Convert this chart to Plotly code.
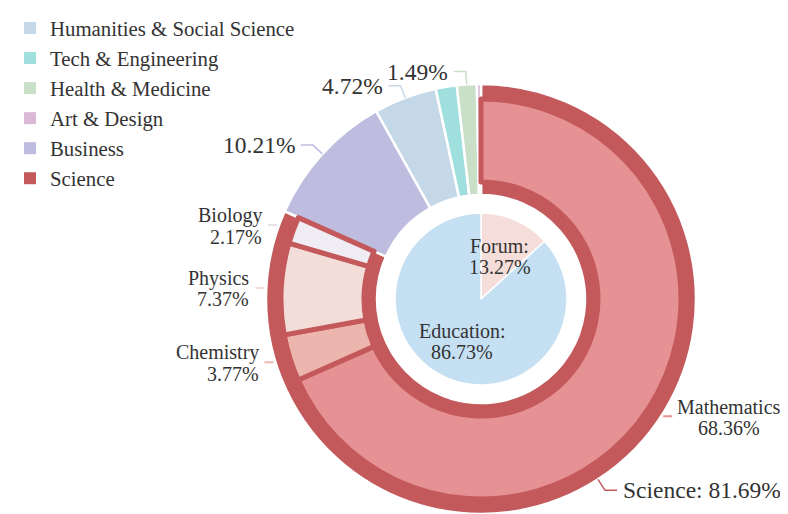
import math
import plotly.graph_objects as go

# page body has an 8px margin: the figure is sized to fill the rest of the window
VW, VH = 788, 514
OFF = 8
W, H = VW - OFF, VH - OFF

# ---------------- data ----------------
categories = ["Humanities & Social Science", "Tech & Engineering", "Health & Medicine",
              "Art & Design", "Business", "Science"]
category_colors = ["#c5d8e8", "#9fe0de", "#c9dfc8", "#dbb8d6", "#bebcdf", "#c4595c"]

# outer ring, clockwise from 12 o'clock
ring_labels = ["Science", "Business", "Humanities & Social Science", "Tech & Engineering",
               "Health & Medicine", "Art & Design"]
ring_values = [81.69, 10.21, 4.72, 1.58, 1.49, 0.31]
ring_label_shown = [True, True, True, False, True, False]

# science breakdown ring
sub_labels = ["Mathematics", "Chemistry", "Physics", "Biology"]
sub_values = [68.36, 3.77, 7.37, 2.17]
sub_colors = ["#e69193", "#ecb5ad", "#f3ddd9", "#efedf3"]

# center pie
center_labels = ["Forum", "Education"]
center_values = [13.27, 86.73]
center_colors = ["#f5ddd9", "#c6e0f3"]

# ---------------- geometry / style (window pixels) ----------------
CX, CY = 481, 299
R_OUT, R_OUT_IN = 215, 104
R_SUB, R_SUB_IN = 200, 117
R_CEN = 86
FONT = "Liberation Serif"
TXT = "#333333"


def px(x, y):
    return (x - OFF) / W, 1 - (y - OFF) / H


def dom(r):
    x0, y1 = px(CX - r, CY - r)
    x1, y0 = px(CX + r, CY + r)
    return dict(x=[max(0, x0), min(1, x1)], y=[max(0, y0), min(1, y1)])


def mid_angles(values, total):
    out, c = [], 0.0
    for v in values:
        out.append((c + v / 2) / total * 2 * math.pi)
        c += v
    return out


color_of = dict(zip(categories, category_colors))
ring_colors = [color_of[l] for l in ring_labels]
total = sum(ring_values)

fig = go.Figure()

# legend carrier (defines legend order), hidden under the center pie
fig.add_trace(go.Pie(labels=categories, values=[ring_values[ring_labels.index(c)] for c in categories],
                     marker=dict(colors=category_colors), domain=dom(4), sort=False,
                     textinfo="none", hoverinfo="skip", showlegend=True))

fig.add_trace(go.Pie(labels=ring_labels, values=ring_values, hole=R_OUT_IN / R_OUT,
                     marker=dict(colors=ring_colors, line=dict(color="white", width=2.5)),
                     domain=dom(R_OUT), sort=False, direction="clockwise", rotation=0,
                     textinfo="none", showlegend=True))

rest = total - sum(sub_values)
fig.add_trace(go.Pie(labels=sub_labels + ["(other)"], values=sub_values + [rest],
                     hole=R_SUB_IN / R_SUB,
                     marker=dict(colors=sub_colors + ["rgba(0,0,0,0)"],
                                 line=dict(color=[color_of["Science"]] * 4 + ["rgba(0,0,0,0)"],
                                           width=[5, 5, 5, 5, 0])),
                     domain=dom(R_SUB), sort=False, direction="clockwise", rotation=0,
                     textinfo="none", showlegend=False))

fig.add_trace(go.Pie(labels=center_labels, values=center_values,
                     marker=dict(colors=center_colors, line=dict(color="white", width=1.5)),
                     domain=dom(R_CEN), sort=False, direction="clockwise", rotation=0,
                     textinfo="none", showlegend=False))

annotations, shapes = [], []

# outer ring labels
for lab, v, a, show, col in zip(ring_labels, ring_values, mid_angles(ring_values, total),
                                ring_label_shown, ring_colors):
    if not show:
        continue
    dx, dy = math.sin(a), -math.cos(a)
    x0, y0 = CX + R_OUT * dx, CY + R_OUT * dy
    x1, y1 = CX + (R_OUT + 13) * dx, CY + (R_OUT + 13) * dy
    side = 1 if dx >= 0 else -1
    x2, y2 = x1 + side * 12, y1
    pts = [px(x0, y0), px(x1, y1), px(x2, y2)]
    shapes.append(dict(type="path", xref="paper", yref="paper",
                       path="M {},{} L {},{} L {},{}".format(*pts[0], *pts[1], *pts[2]),
                       line=dict(color=col, width=1.5)))
    text = f"{lab}: {v:.2f}%" if v > 50 else f"{v:.2f}%"
    tx, ty = px(x2 + side * 4, y2)
    annotations.append(dict(x=tx, y=ty, xref="paper", yref="paper", text=text, showarrow=False,
                            xanchor="left" if side > 0 else "right", yanchor="middle",
                            font=dict(family=FONT, size=23.5, color=TXT)))

# science breakdown labels
for lab, v, a, col in zip(sub_labels, sub_values, mid_angles(sub_values + [rest], total), sub_colors):
    dx, dy = math.sin(a), -math.cos(a)
    yl = CY + R_OUT * dy
    side = 1 if dx >= 0 else -1
    xs = CX + R_OUT * dx + side * 2
    xe = xs + side * 9
    p0, p1 = px(xs, yl), px(xe, yl)
    shapes.append(dict(type="line", xref="paper", yref="paper", x0=p0[0], y0=p0[1], x1=p1[0], y1=p1[1],
                       line=dict(color=col if col != "#efedf3" else "#e4e2ea", width=2)))
    fs = 20
    if side < 0:
        xa, xpos = "right", xe - 4
    else:
        # name and value centred on each other, block starting right of the line
        xa, xpos = "center", xe + 3 + 0.245 * fs * len(lab)
    for t, off in ((lab, -9.5), (f"{v:.2f}%", 11.5)):
        tx, ty = px(xpos, yl + off)
        annotations.append(dict(x=tx, y=ty, xref="paper", yref="paper", text=t, showarrow=False,
                                xanchor=xa, yanchor="middle",
                                font=dict(family=FONT, size=fs, color=TXT)))

# center labels
for lab, v, a in zip(center_labels, center_values, mid_angles(center_values, sum(center_values))):
    r = 0.54 * R_CEN
    mx, my = CX + r * math.sin(a), CY - r * math.cos(a)
    for t, off in ((f"{lab}:", -10.5), (f"{v:.2f}%", 10.5)):
        tx, ty = px(mx, my + off)
        annotations.append(dict(x=tx, y=ty, xref="paper", yref="paper", text=t, showarrow=False,
                                xanchor="center", yanchor="middle",
                                font=dict(family=FONT, size=20, color=TXT)))

fig.update_layout(
    width=W, height=H,
    margin=dict(l=0, r=0, t=0, b=0),
    paper_bgcolor="white", plot_bgcolor="white",
    font=dict(family=FONT, color=TXT),
    legend=dict(x=2 / W, y=1, xanchor="left", yanchor="top",
                font=dict(family=FONT, size=20.8, color=TXT),
                bgcolor="rgba(0,0,0,0)", itemclick=False, itemdoubleclick=False),
    annotations=annotations,
    shapes=shapes,
)

fig.write_html("out.html")
